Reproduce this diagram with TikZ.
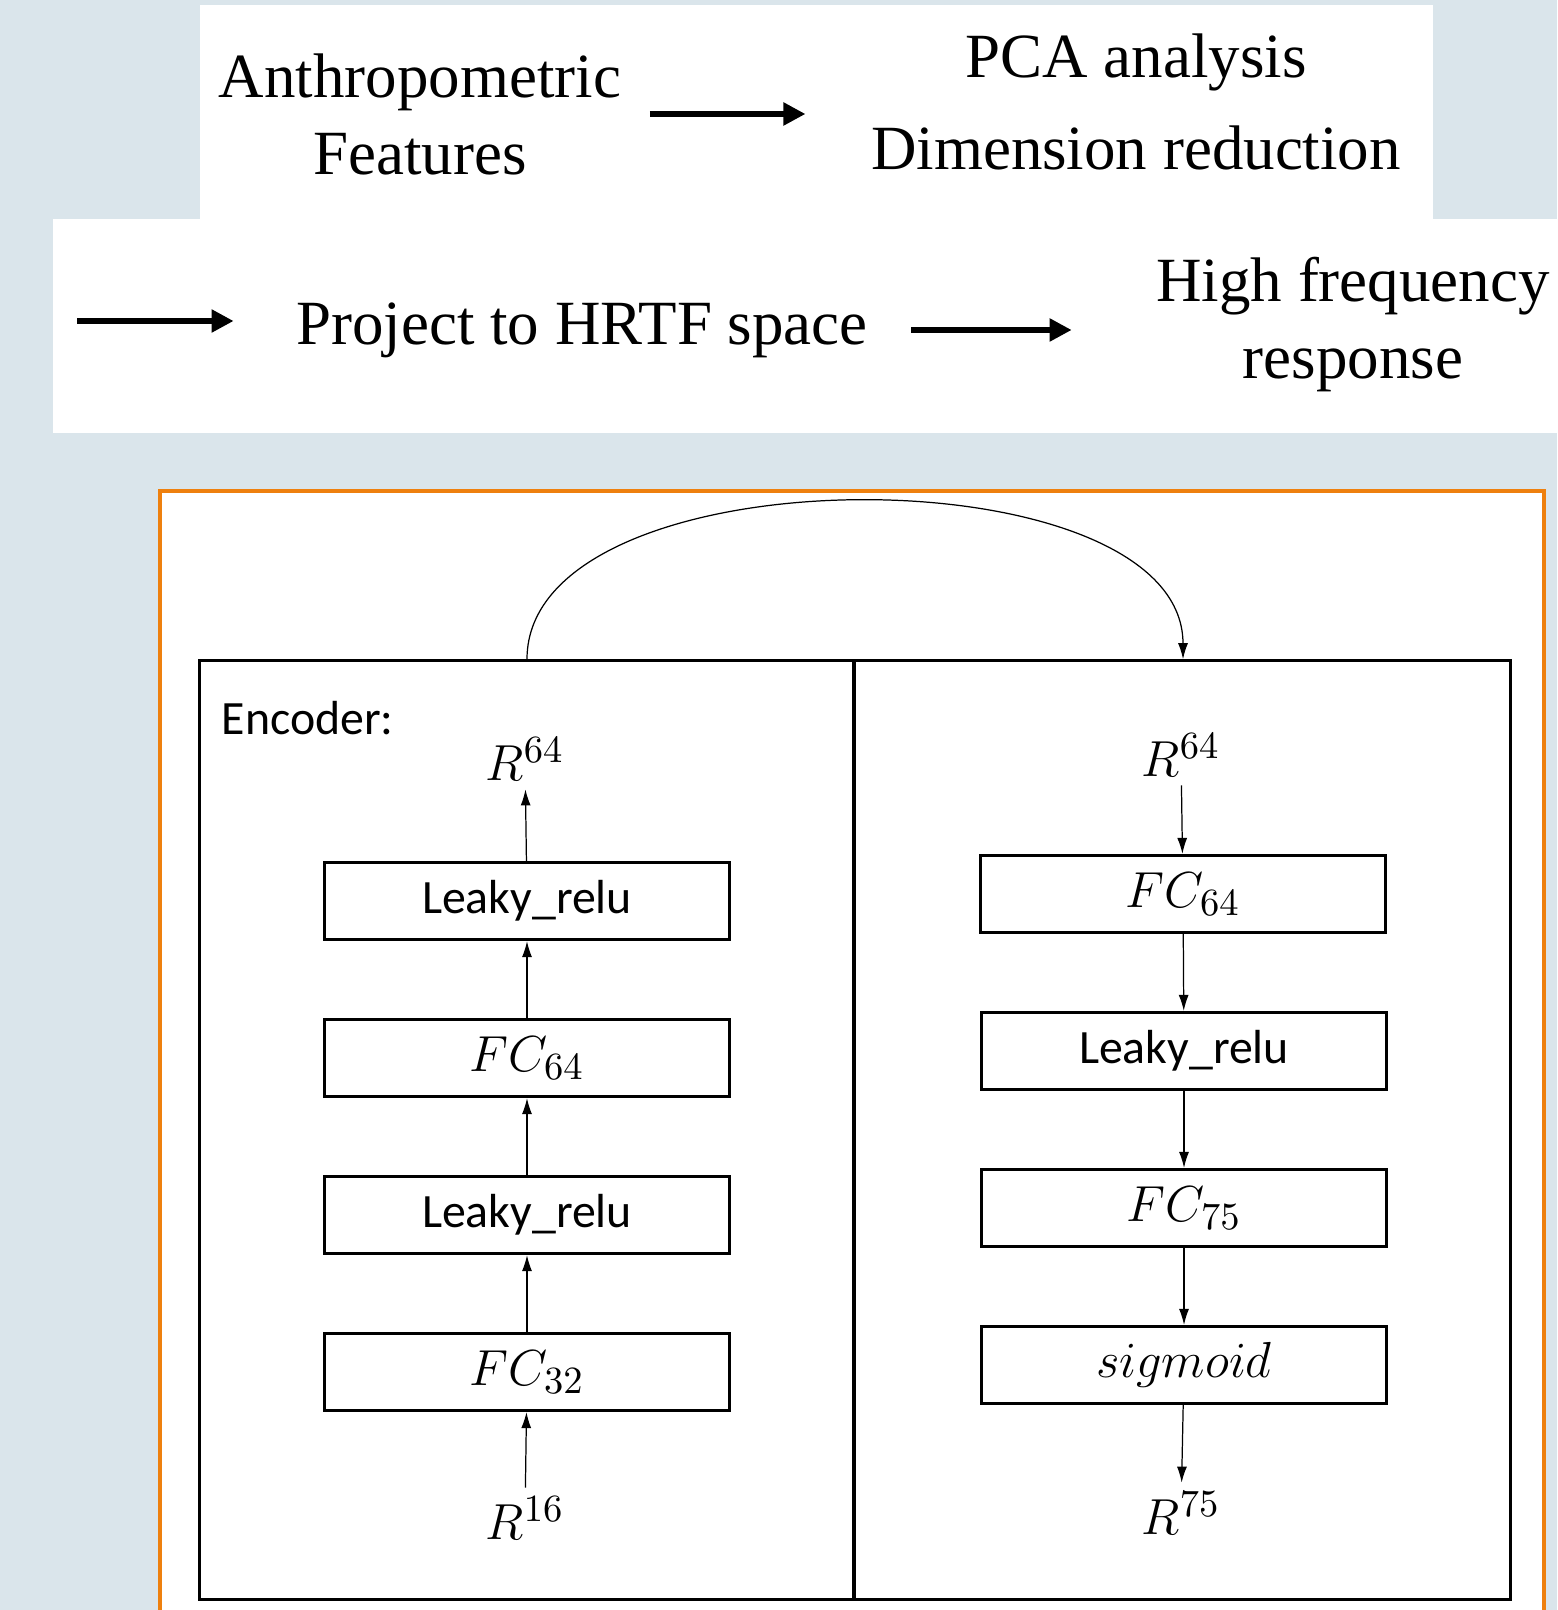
\documentclass[tikz,border=0pt]{standalone}
\usepackage{fontspec}
\setmainfont{Liberation Serif}
\newfontfamily\carlito{Carlito}
\usetikzlibrary{arrows.meta}
\definecolor{slidebg}{RGB}{218,229,235}
\definecolor{frameorange}{RGB}{238,128,14}
\tikzset{
  bigtext/.style={font=\fontsize{17.9}{21.9}\selectfont, align=center, inner sep=0pt},
  layer/.style={draw, line width=0.9pt, minimum width=4.05cm, minimum height=0.77cm, inner sep=0pt,
    font=\carlito\fontsize{13.6}{16}\selectfont},
  mathlayer/.style={layer, font=\fontsize{15}{18}\selectfont},
  panel/.style={draw, line width=0.9pt, minimum height=9.38cm, inner sep=0pt},
  dimlabel/.style={font=\fontsize{15}{18}\selectfont, inner sep=0pt, outer sep=2.5pt},
  thinarrow/.style={-{Latex[length=0.16cm,width=0.1cm]}, line width=0.35pt},
  thickarrow/.style={-{Triangle[length=0.22cm,width=0.22cm]}, line width=1.5pt}
}
\begin{document}
\begin{tikzpicture}[x=0.01cm, y=-0.01cm]
  \useasboundingbox[fill=slidebg] (0,0) rectangle (1557,1610);
  % pipeline text bands
  \fill[white] (200,5) rectangle (1433,219);
  \fill[white] (53,219) rectangle (1557,433);
  \node[bigtext] (anthro) at (420,114) {Anthropometric\\Features};
  \node[bigtext, font=\fontsize{17.9}{26}\selectfont] (pca) at (1136,102) {PCA analysis\\Dimension reduction};
  \node[bigtext] (proj) at (582,330) {Project to HRTF space};
  \node[bigtext] (highf) at (1353,325) {High frequency\\response};
  \coordinate (lead) at (77,321);
  \draw[thickarrow, shorten <=0.28cm, shorten >=0.65cm] (anthro.east) -- (anthro.east -| pca.west);
  \draw[thickarrow, shorten >=0.62cm] (lead) -- (lead -| proj.west);
  \draw[thickarrow, shorten <=0.43cm, shorten >=0.84cm] (proj.east) -- (proj.east -| highf.west);
  % autoencoder
  \draw[frameorange, line width=1.3pt, fill=white] (160,491) rectangle (1544,1640);
  \node[panel, minimum width=6.54cm] (enc) at (527,1130) {};
  \node[panel, minimum width=6.56cm] (dec) at (1182,1130) {};
  \node[anchor=west, inner sep=0pt, font=\carlito\fontsize{13.6}{16}\selectfont] (enclabel) at (221,718) {Encoder:};
  \node[dimlabel] (rin) at (525,1518) {$R^{16}$};
  \node[mathlayer] (fc32) at (527,1372) {$FC_{32}$};
  \node[layer] (lreluA) at (527,1215) {Leaky\_relu};
  \node[mathlayer] (fc64a) at (527,1058) {$FC_{64}$};
  \node[layer] (lreluB) at (527,901) {Leaky\_relu};
  \node[dimlabel] (rcode) at (525,759) {$R^{64}$};
  \node[dimlabel] (rlatent) at (1181,755) {$R^{64}$};
  \node[mathlayer] (fc64b) at (1183,894) {$FC_{64}$};
  \node[layer] (lreluC) at (1184,1051) {Leaky\_relu};
  \node[mathlayer] (fc75) at (1184,1208) {$FC_{75}$};
  \node[mathlayer] (sigm) at (1184,1365) {$sigmoid$};
  \node[dimlabel] (rout) at (1181,1513) {$R^{75}$};
  \draw[thinarrow] (rin) -- (fc32);
  \draw[thinarrow] (fc32) -- (lreluA);
  \draw[thinarrow] (lreluA) -- (fc64a);
  \draw[thinarrow] (fc64a) -- (lreluB);
  \draw[thinarrow] (lreluB) -- (rcode);
  \draw[thinarrow] (rlatent) -- (fc64b);
  \draw[thinarrow] (fc64b) -- (lreluC);
  \draw[thinarrow] (lreluC) -- (fc75);
  \draw[thinarrow] (fc75) -- (sigm);
  \draw[thinarrow] (sigm) -- (rout);
  \draw[thinarrow] (enc.north -| lreluB) .. controls +(0,-210) and +(0,-210) .. (dec.north -| fc64b);
\end{tikzpicture}
\end{document}
